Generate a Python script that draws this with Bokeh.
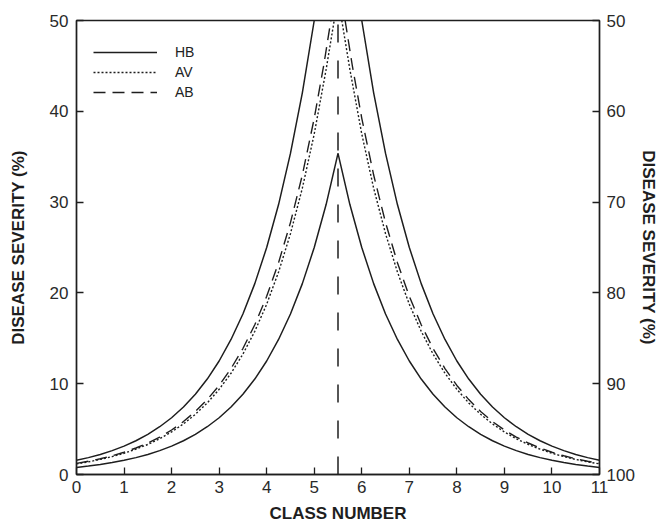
from bokeh.plotting import figure
from bokeh.models import Range1d, LinearAxis, Legend, LegendItem, FixedTicker
from bokeh.embed import file_html
from bokeh.resources import INLINE

# ---------------- data ----------------
# left half: read on the left axis, disease severity (%)
HB_UP_L_X = [0, 0.25, 0.5, 0.75, 1, 1.25, 1.5, 1.75, 2, 2.25, 2.5, 2.75, 3,
             3.25, 3.5, 3.75, 4, 4.25, 4.5, 4.75, 5]
HB_UP_L_Y = [1.56, 1.86, 2.21, 2.63, 3.13, 3.72, 4.42, 5.26, 6.25, 7.43, 8.84,
             10.51, 12.5, 14.87, 17.68, 21.02, 25, 29.73, 35.36, 42.04, 50]
HB_LO_L_X = [0, 0.25, 0.5, 0.75, 1, 1.25, 1.5, 1.75, 2, 2.25, 2.5, 2.75, 3,
             3.25, 3.5, 3.75, 4, 4.25, 4.5, 4.75, 5, 5.25, 5.5]
HB_LO_L_Y = [0.78, 0.93, 1.10, 1.31, 1.56, 1.86, 2.21, 2.63, 3.13, 3.72, 4.42,
             5.26, 6.25, 7.43, 8.84, 10.51, 12.5, 14.87, 17.68, 21.02, 25,
             29.73, 35.36]
AV_L_X = [0, 0.25, 0.5, 0.75, 1, 1.25, 1.5, 1.75, 2, 2.25, 2.5, 2.75, 3,
          3.25, 3.5, 3.75, 4, 4.25, 4.5, 4.75, 5, 5.25, 5.42]
AV_L_Y = [1.17, 1.39, 1.66, 1.97, 2.34, 2.79, 3.31, 3.94, 4.69, 5.57, 6.63,
          7.88, 9.38, 11.15, 13.26, 15.77, 18.75, 22.30, 26.52, 31.53, 37.5,
          44.60, 50]
AB_L_X = [0, 0.25, 0.5, 0.75, 1, 1.25, 1.5, 1.75, 2, 2.25, 2.5, 2.75, 3,
          3.25, 3.5, 3.75, 4, 4.25, 4.5, 4.75, 5, 5.2, 5.35]
AB_L_Y = [1.23, 1.46, 1.73, 2.06, 2.45, 2.92, 3.47, 4.12, 4.90, 5.83, 6.94,
          8.25, 9.81, 11.67, 13.87, 16.49, 19.62, 23.33, 27.74, 32.98, 39.23,
          45.07, 50]

# right half: read on the right axis, disease severity (%)
HB_UP_R_X = [6, 6.25, 6.5, 6.75, 7, 7.25, 7.5, 7.75, 8, 8.25, 8.5, 8.75, 9,
             9.25, 9.5, 9.75, 10, 10.25, 10.5, 10.75, 11]
HB_UP_R_Y = [50, 57.96, 64.64, 70.27, 75, 78.98, 82.32, 85.13, 87.5, 89.49,
             91.16, 92.57, 93.75, 94.74, 95.58, 96.28, 96.87, 97.37, 97.79,
             98.14, 98.44]
HB_LO_R_X = [5.5, 5.75, 6, 6.25, 6.5, 6.75, 7, 7.25, 7.5, 7.75, 8, 8.25, 8.5,
             8.75, 9, 9.25, 9.5, 9.75, 10, 10.25, 10.5, 10.75, 11]
HB_LO_R_Y = [64.64, 70.27, 75, 78.98, 82.32, 85.13, 87.5, 89.49, 91.16, 92.57,
             93.75, 94.74, 95.58, 96.28, 96.87, 97.37, 97.79, 98.14, 98.44,
             98.69, 98.90, 99.07, 99.22]
AV_R_X = [5.58, 5.75, 6, 6.25, 6.5, 6.75, 7, 7.25, 7.5, 7.75, 8, 8.25, 8.5,
          8.75, 9, 9.25, 9.5, 9.75, 10, 10.25, 10.5, 10.75, 11]
AV_R_Y = [50, 55.40, 62.5, 68.47, 73.48, 77.70, 81.25, 84.23, 86.74, 88.85,
          90.62, 92.12, 93.37, 94.43, 95.31, 96.06, 96.69, 97.21, 97.66,
          98.03, 98.34, 98.61, 98.83]
AB_R_X = [5.65, 5.8, 6, 6.25, 6.5, 6.75, 7, 7.25, 7.5, 7.75, 8, 8.25, 8.5,
          8.75, 9, 9.25, 9.5, 9.75, 10, 10.25, 10.5, 10.75, 11]
AB_R_Y = [50, 54.93, 60.77, 67.02, 72.26, 76.67, 80.38, 83.51, 86.13, 88.33,
          90.19, 91.75, 93.06, 94.17, 95.10, 95.88, 96.53, 97.08, 97.55,
          97.94, 98.27, 98.54, 98.77]

DIVIDER_X = [5.5, 5.5]
DIVIDER_Y = [0, 50]

X_TICKS = list(range(0, 12))
LEFT_TICKS = [0, 10, 20, 30, 40, 50]
RIGHT_TICKS = [50, 60, 70, 80, 90, 100]
SERIES_NAMES = ["HB", "AV", "AB"]
X_TITLE = "CLASS NUMBER"
Y_TITLE = "DISEASE SEVERITY (%)"

# ---------------- styling ----------------
INK = "#1e1e1e"
FONT = "Liberation Sans"

p = figure(width=660, height=529, output_backend="svg", toolbar_location=None,
           x_range=Range1d(0, 11), y_range=Range1d(0, 50),
           min_border_left=76, min_border_right=58, min_border_top=20,
           min_border_bottom=55)
p.extra_y_ranges = {"right": Range1d(start=100, end=50)}
p.xgrid.visible = False
p.ygrid.visible = False
p.outline_line_color = INK
p.outline_line_width = 1.4
p.background_fill_color = "white"
p.border_fill_color = "white"

right_axis = LinearAxis(y_range_name="right")
p.add_layout(right_axis, "right")

for ax, ticks in ((p.xaxis[0], X_TICKS), (p.yaxis[0], LEFT_TICKS),
                  (right_axis, RIGHT_TICKS)):
    ax.ticker = FixedTicker(ticks=ticks)
    ax.minor_tick_line_color = None
    ax.major_tick_in = 7
    ax.major_tick_out = 0
    ax.axis_line_color = INK
    ax.axis_line_width = 1.4
    ax.major_tick_line_color = INK
    ax.major_tick_line_width = 1.3
    ax.major_label_text_font = FONT
    ax.major_label_text_font_size = "17px"
    ax.major_label_text_color = "#2a2a2a"
    ax.axis_label_text_font = FONT
    ax.axis_label_text_font_size = "17px"
    ax.axis_label_text_font_style = "bold"
    ax.axis_label_text_color = INK

p.xaxis[0].axis_label = X_TITLE
p.yaxis[0].axis_label = Y_TITLE
right_axis.axis_label = Y_TITLE
p.xaxis[0].major_label_standoff = 6
p.xaxis[0].axis_label_standoff = 8
p.yaxis[0].major_label_standoff = 8
p.yaxis[0].axis_label_standoff = 19
right_axis.major_label_standoff = 7
right_axis.axis_label_standoff = 1

lw = 1.5
# HB (solid)
hb_r = p.line(HB_UP_L_X, HB_UP_L_Y, line_color=INK, line_width=lw)
p.line(HB_LO_L_X, HB_LO_L_Y, line_color=INK, line_width=lw)
p.line(HB_UP_R_X, HB_UP_R_Y, line_color=INK, line_width=lw, y_range_name="right")
p.line(HB_LO_R_X, HB_LO_R_Y, line_color=INK, line_width=lw, y_range_name="right")
# AV (dotted)
av_r = p.line(AV_L_X, AV_L_Y, line_color=INK, line_width=1.4, line_dash="2 2")
p.line(AV_R_X, AV_R_Y, line_color=INK, line_width=1.4, line_dash="2 2",
       y_range_name="right")
# AB (dashed)
ab_r = p.line(AB_L_X, AB_L_Y, line_color=INK, line_width=1.4, line_dash="12 7")
p.line(AB_R_X, AB_R_Y, line_color=INK, line_width=1.4, line_dash="12 7",
       y_range_name="right")
# dividing line
p.line(DIVIDER_X, DIVIDER_Y, line_color=INK, line_width=1.5, line_dash="18 18")

legend = Legend(items=[LegendItem(label=SERIES_NAMES[0], renderers=[hb_r]),
                       LegendItem(label=SERIES_NAMES[1], renderers=[av_r]),
                       LegendItem(label=SERIES_NAMES[2], renderers=[ab_r])],
                location=(17, 372), glyph_width=64, glyph_height=20,
                label_height=20, label_standoff=18, padding=0, spacing=0,
                margin=0, border_line_color=None, background_fill_alpha=0,
                label_text_font=FONT, label_text_font_size="14px",
                label_text_color="#222222")
p.add_layout(legend, "center")

open("out.html", "w").write(file_html(p, INLINE))
